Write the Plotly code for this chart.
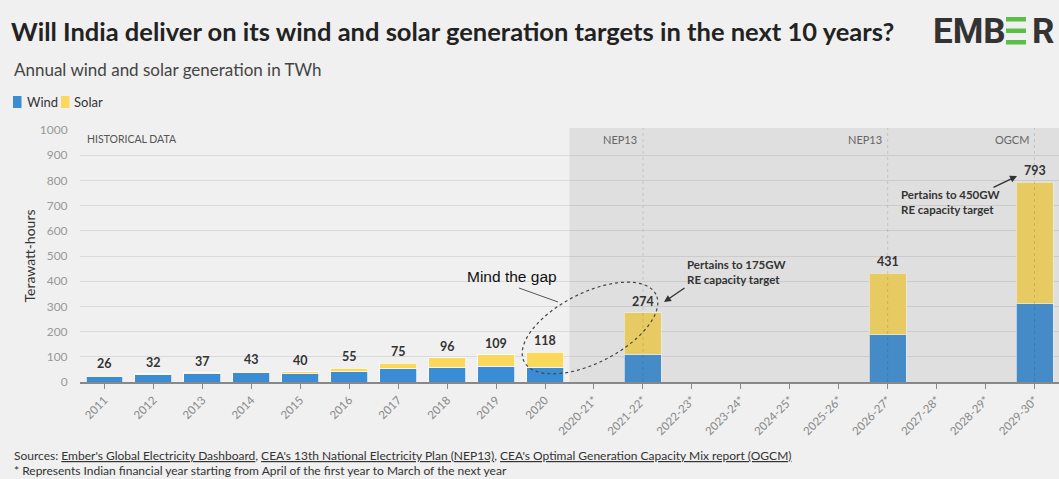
import numpy as np
import plotly.graph_objects as go

# ---------------- data ----------------
categories = ["2011", "2012", "2013", "2014", "2015", "2016", "2017", "2018", "2019", "2020",
              "2020-21*", "2021-22*", "2022-23*", "2023-24*", "2024-25*", "2025-26*",
              "2026-27*", "2027-28*", "2028-29*", "2029-30*"]
wind = [23, 29, 32, 36, 32, 41, 53, 58, 62, 58,
        None, 110, None, None, None, None, 187, None, None, 310]
solar = [3, 3, 5, 7, 8, 14, 22, 38, 47, 60,
         None, 164, None, None, None, None, 244, None, None, 483]
first_projected = "2020-21*"
target_markers = ["2021-22*", "2026-27*", "2029-30*"]
target_sources = ["NEP13", "NEP13", "OGCM"]
y_ticks = list(range(0, 1001, 100))

totals = [None if w is None else w + s for w, s in zip(wind, solar)]

FONT = "Lato"
WIND_C = "#3a8dd5"
SOLAR_C = "#f9d85c"

# plot-area geometry (pixels) used only for decorative annotations
L, T, W, H = 80, 130, 979, 252


def px(x):
    return (x - L) / W


def py(y):
    return (T + H - y) / H


fig = go.Figure()
fig.add_trace(go.Bar(x=categories, y=wind, name="Wind", marker_color=WIND_C,
                     marker_line=dict(color="rgba(255,255,255,0.7)", width=1)))
fig.add_trace(go.Bar(x=categories, y=solar, name="Solar", marker_color=SOLAR_C,
                     marker_line=dict(color="rgba(255,255,255,0.7)", width=1)))

annotations = []
shapes = []


def note(x, y, text, size, color="#333", family=FONT, xanchor="left", **kw):
    annotations.append(dict(x=x, y=y, xref=kw.pop("xref", "paper"), yref=kw.pop("yref", "paper"),
                            text=text, showarrow=False, xanchor=xanchor,
                            yanchor=kw.pop("yanchor", "middle"),
                            font=dict(family=family, size=size, color=color), **kw))


# total labels (category index positions)
for i, t in enumerate(totals):
    if t is not None:
        note(i, t, f"<b>{t}</b>", 12.5, xanchor="center", xref="x", yref="y",
             yanchor="bottom", yshift=2)

# projected shading (overlay)
p_idx = categories.index(first_projected)
shapes.append(dict(type="rect", xref="x", yref="paper", x0=p_idx - 0.5, x1=len(categories) - 0.5,
                   y0=0, y1=1.008, fillcolor="rgba(128,128,128,0.15)", line=dict(width=0),
                   layer="above"))

# target vertical lines + source labels
for c, s in zip(target_markers, target_sources):
    i = categories.index(c)
    shapes.append(dict(type="line", xref="x", yref="paper", x0=i, x1=i, y0=0, y1=1.008,
                       line=dict(color="rgba(0,0,0,0.12)", width=1, dash="dot"), layer="above"))
    note(i, py(139), s, 11, color="#666", xanchor="right", xref="x", xshift=-4)

note(px(85), py(139), "HISTORICAL DATA", 10.5, color="#555")

# title, subtitle
note(px(9), py(31),
     "<b>Will India deliver on its wind and solar generation targets in the next 10 years?</b>",
     25.5, color="#222")
note(px(12), py(70), "Annual wind and solar generation in TWh", 17, color="#444")

# logo
note(px(931), py(31), "<b>EMB</b>", 35, family="Roboto")
note(px(1030), py(31), "<b>R</b>", 35, family="Roboto")
for yy0, yy1 in [(17, 21.5), (28.5, 33), (40, 44.5)]:
    shapes.append(dict(type="rect", xref="paper", yref="paper", x0=px(1006), x1=px(1026),
                       y0=py(yy1), y1=py(yy0), fillcolor="#5bbf45", line=dict(width=0)))

# legend (custom)
shapes.append(dict(type="rect", xref="paper", yref="paper", x0=px(13), x1=px(21.5),
                   y0=py(108), y1=py(96), fillcolor=WIND_C, line=dict(width=0)))
shapes.append(dict(type="rect", xref="paper", yref="paper", x0=px(61), x1=px(69.5),
                   y0=py(108), y1=py(96), fillcolor=SOLAR_C, line=dict(width=0)))
note(px(25), py(102), "Wind", 13)
note(px(72), py(102), "Solar", 13)

# "Mind the gap"
note(px(512), py(276), "Mind the gap", 15.5, color="#111", family="Liberation Sans",
     xanchor="center")
shapes.append(dict(type="line", xref="paper", yref="paper", x0=px(519), y0=py(288), x1=px(558), y1=py(302),
                   line=dict(color="#555", width=1)))
cx, cy, a, b, phi = 590, 328, 74, 35, np.deg2rad(27)
tt = np.linspace(0, 2 * np.pi, 90)
ex = cx + a * np.cos(tt) * np.cos(phi) - b * np.sin(tt) * np.sin(phi)
ey = cy - (a * np.cos(tt) * np.sin(phi) + b * np.sin(tt) * np.cos(phi))
path = "M " + " L ".join(f"{px(xx):.5f},{py(yy):.5f}" for xx, yy in zip(ex, ey)) + " Z"
shapes.append(dict(type="path", xref="paper", yref="paper", path=path,
                   line=dict(color="#444", width=1.2, dash="dot"), layer="above"))

# target call-outs
note(px(685), py(272), "<b>Pertains to 175GW<br>RE capacity target</b>", 11.5, align="left")
annotations.append(dict(x=px(664), y=py(302), xref="paper", yref="paper", text="",
                        showarrow=True, ax=22, ay=-15, arrowhead=2, arrowsize=1, arrowwidth=1.4,
                        arrowcolor="#333"))
note(px(899), py(202), "<b>Pertains to 450GW<br>RE capacity target</b>", 11.5, align="left")
annotations.append(dict(x=px(1017), y=py(176), xref="paper", yref="paper", text="",
                        showarrow=True, ax=-25, ay=12, arrowhead=2, arrowsize=1, arrowwidth=1.4,
                        arrowcolor="#333"))

# footer
note(px(12), py(455),
     "Sources: <u>Ember's Global Electricity Dashboard</u>, <u>CEA's 13th National Electricity Plan (NEP13)</u>, "
     "<u>CEA's Optimal Generation Capacity Mix report (OGCM)</u>", 12)
note(px(12), py(470),
     "* Represents Indian financial year starting from April of the first year to March of the next year", 12)

fig.update_layout(
    width=1059, height=479,
    margin=dict(l=L, r=0, t=T, b=479 - T - H, pad=0),
    paper_bgcolor="#f0f0f0", plot_bgcolor="#f0f0f0",
    barmode="stack", bargap=0.245, showlegend=False,
    font=dict(family=FONT, color="#333"),
    annotations=annotations, shapes=shapes,
    xaxis=dict(type="category", categoryorder="array", categoryarray=categories,
               range=[-0.5, len(categories) - 0.5], tickangle=-45,
               tickfont=dict(family=FONT, size=11.5, color="#888"),
               ticks="outside", ticklen=5, tickcolor="#888", showline=True, linecolor="#888",
               linewidth=2, showgrid=False, fixedrange=True),
    yaxis=dict(range=[0, 1000], tickvals=y_ticks, gridcolor="#d9d9d9", gridwidth=1,
               zeroline=False, showline=False, ticks="outside", ticklen=9,
               tickcolor="rgba(0,0,0,0)", tickfont=dict(family=FONT, size=12, color="#999"),
               title=dict(text="Terawatt-hours", font=dict(family=FONT, size=14, color="#333"),
                          standoff=0), fixedrange=True),
)

fig.write_html("out.html", config={"displayModeBar": False},
               post_script="document.body.style.margin='0';document.body.style.overflow='hidden';")
